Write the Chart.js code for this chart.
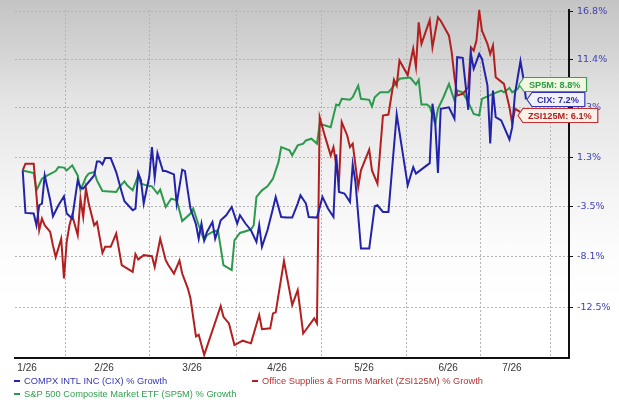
<!DOCTYPE html>
<html><head><meta charset="utf-8">
<script src="https://cdn.jsdelivr.net/npm/chart.js@4.4.1/dist/chart.umd.min.js"></script>
<style>
html,body{margin:0;padding:0;}
body{width:619px;height:407px;overflow:hidden;background:linear-gradient(to bottom,#c4c4c4 0px,#d3d3d3 50px,#e4e4e4 100px,#f1f1f1 170px,#fcfcfc 250px,#ffffff 300px);}
#wrap{position:relative;width:619px;height:407px;}
</style></head><body><div id="wrap"><canvas id="c" width="619" height="407"></canvas></div>
<script>
// ---- axis labels ----
const monthLabels = ['1/26','2/26','3/26','4/26','5/26','6/26','7/26'];
const monthLabelDays = [1.6, 29.6, 61.6, 92.5, 124.1, 154.7, 177.9];
const monthGridDays = [15.4, 46.0, 77.6, 108.5, 139.7, 166.3, 192.1];
const growthTicks = [16.8, 11.4, 6.3, 1.3, -3.5, -8.1, -12.5];
const growthTickLabels = ['16.8%','11.4%','6.3%','1.3%','-3.5%','-8.1%','-12.5%'];

// ---- series (day offset from 1/26, % growth) ----
const cixDays = [0,1,4,5,6,7,8,10,11,13,15,16,18,20,21,22,24,26,27,28,29,30,32,34,36,37,40,41,42,43,44,46,47,48,49,51,52,55,56,58,59,60,61,63,64,65,66,67,69,70,71,72,74,76,78,79,81,83,85,86,87,89,91,92,94,96,98,100,101,103,104,107,109,111,113,114,115,117,119,120,121,123,126,128,129,131,133,136,140,142,143,148,149,150,151,152,155,157,158,160,162,163,164,166,167,169,170,171,172,174,177,178,179,181,182,183];
const cixGrowth = [0.0,-4.06,-4.12,-5.21,-3.34,-3.18,-0.48,-2.87,-4.37,-3.34,-2.49,-4.12,-4.58,-0.96,-1.66,-1.75,-1.12,-0.48,0.89,0.89,0.60,1.22,1.22,-0.15,-2.08,-2.96,-3.81,-3.65,-0.25,-0.96,-3.18,-0.64,2.31,-0.70,1.71,-0.06,-0.06,-0.38,-3.18,0.08,-0.06,-1.92,-3.65,-5.12,-6.45,-5.05,-6.59,-5.83,-4.91,-6.45,-5.67,-4.75,-4.28,-3.50,-5.05,-4.28,-5.05,-5.67,-6.74,-5.21,-7.19,-5.67,-3.65,-2.55,-4.44,-4.50,-4.50,-3.18,-2.40,-3.18,-4.44,-4.50,-2.55,-3.65,-4.44,1.58,-2.08,-2.23,-3.03,0.60,-1.12,-7.34,-7.34,-3.44,-3.34,-3.97,-3.97,5.63,-1.44,0.33,-0.31,0.72,6.74,4.84,-0.25,6.21,6.37,5.19,11.70,11.63,6.11,12.06,10.44,12.06,11.52,8.65,2.68,8.12,5.35,5.01,3.08,4.32,7.78,11.29,9.54,7.2];

const zsiDays = [0,1,4,5,6,7,8,10,11,12,14,15,16,17,18,20,21,22,23,24,26,27,29,30,32,34,36,40,41,42,44,47,48,50,52,53,55,57,58,60,61,63,64,66,72,73,75,77,80,83,86,87,90,91,92,95,98,100,102,106,107,108,110,112,113,115,116,118,119,120,122,123,126,127,129,131,133,135,136,137,140,142,143,144,145,148,149,151,152,155,156,157,158,160,162,163,164,165,166,167,169,170,171,172,175,177,178,179,180,181,183];
const zsiGrowth = [0,0.67,0.67,-2.40,-5.67,-4.58,-5.21,-5.83,-7.06,-8.11,-6.45,-10.01,-6.74,-5.21,-4.28,-6.13,-2.71,-4.44,-1.75,-3.18,-5.21,-4.91,-7.74,-7.19,-7.19,-5.98,-8.84,-9.43,-7.85,-8.33,-7.94,-8.03,-8.99,-6.45,-8.39,-8.84,-9.58,-8.43,-9.58,-10.85,-11.74,-14.97,-14.83,-16.49,-12.40,-13.32,-13.88,-15.68,-15.32,-15.54,-13.17,-14.37,-14.29,-13.03,-12.94,-8.45,-12.31,-11.03,-14.72,-13.45,-13.88,5.34,3.31,1.49,2.31,-1.12,4.84,3.48,2.31,2.65,-1.60,0.01,2.05,0.01,-1.28,5.52,5.62,9.29,8.65,11.34,9.77,12.65,10.67,15.57,13.17,15.83,12.79,16.14,15.76,14.08,12.24,9.54,7.60,7.78,8.47,12.79,12.43,13.53,16.90,14.64,13.17,12.06,12.98,9.54,8.83,6.37,4.67,6.21,6.04,5.86,6.1];

const sp5mDays = [0,4,5,7,9,12,13,15,16,18,20,21,23,24,26,27,29,34,35,37,38,40,42,43,45,47,49,50,52,54,56,58,61,62,64,66,67,69,71,73,76,77,79,83,84,85,87,89,91,93,94,97,98,100,102,103,105,107,108,112,114,115,116,119,120,122,123,126,127,128,130,133,135,137,140,141,143,144,145,147,148,150,151,153,155,157,158,160,162,164,166,167,171,174,175,177,178,180,181,183];
const sp5mGrowth = [0,-0.25,-1.92,-0.80,-0.48,-0.06,0.33,0.28,0.01,0.50,-0.48,-1.92,-0.64,-0.31,-0.15,-0.96,-1.99,-2.08,-1.66,-1.06,-1.44,-1.92,-0.48,-1.28,-1.44,-1.54,-2.23,-1.85,-3.50,-2.71,-2.87,-4.82,-4.12,-3.65,-5.21,-6.59,-6.13,-5.83,-5.67,-8.84,-9.28,-6.59,-5.92,-5.61,-5.21,-2.55,-1.92,-1.54,-0.80,0.82,2.31,1.98,1.49,2.48,2.65,2.98,3.15,2.65,4.67,4.32,6.65,6.55,7.25,7.15,7.42,8.65,7.25,7.15,6.45,7.42,7.94,7.94,8.65,9.37,9.48,9.48,8.76,9.26,6.65,6.65,6.45,4.67,6.21,7.42,8.83,7.08,8.12,7.94,6.90,5.69,5.52,7.25,7.78,8.12,7.94,8.40,7.94,8.30,8.83,8.8];

const seriesNames = ['COMPX INTL INC (CIX) % Growth','Office Supplies & Forms Market (ZSI125M) % Growth','S&P 500 Composite Market ETF (SP5M) % Growth'];
const seriesShort = ['CIX','ZSI125M','SP5M'];
const seriesColors = ['#2323aa','#b31e1e','#2c9a4c'];

const FONT = "'Liberation Sans', Arial, sans-serif";
const toPts = (days, vals) => days.map((d, i) => ({x: d, y: 100 + vals[i]}));
const X_MIN = -2.8, X_MAX = 198.65;

const calloutPlugin = {
  id: 'callouts',
  afterDraw(chart) {
    const ctx = chart.ctx, xs = chart.scales.x, ys = chart.scales.y;
    const endX = xs.getPixelForValue(cixDays[cixDays.length - 1]);
    const items = [
      {name: seriesShort[2], v: sp5mGrowth[sp5mGrowth.length-1], dx: -7, dy: 0, stroke: '#3aa050', fill: '#f1f8e2', text: '#2f9a47'},
      {name: seriesShort[0], v: cixGrowth[cixGrowth.length-1], dx: 1, dy: 0, stroke: '#3434b4', fill: '#f1f1fc', text: '#2a2aa4'},
      {name: seriesShort[1], v: zsiGrowth[zsiGrowth.length-1], dx: -8, dy: 5, stroke: '#c03232', fill: '#fcf1e8', text: '#b02222'}
    ];
    ctx.save();
    ctx.font = 'bold 9.2px ' + FONT;
    items.forEach(it => {
      const label = it.name + ': ' + it.v.toFixed(1) + '%';
      const tw = ctx.measureText(label).width;
      const tip = endX + it.dx;
      const cy = Math.round(ys.getPixelForValue(100 + it.v) + it.dy) + 0.5;
      const h = 7, p = 5, w = tw + 11;
      ctx.beginPath();
      ctx.moveTo(tip, cy);
      ctx.lineTo(tip + p, cy - h);
      ctx.lineTo(tip + p + w, cy - h);
      ctx.lineTo(tip + p + w, cy + h);
      ctx.lineTo(tip + p, cy + h);
      ctx.closePath();
      ctx.fillStyle = it.fill; ctx.fill();
      ctx.lineWidth = 1.2; ctx.strokeStyle = it.stroke; ctx.stroke();
      ctx.fillStyle = it.text; ctx.textBaseline = 'middle'; ctx.textAlign = 'left';
      ctx.fillText(label, tip + p + 5, cy + 0.5);
    });
    ctx.restore();
  }
};

const legendPlugin = {
  id: 'customLegend',
  afterDraw(chart) {
    const ctx = chart.ctx;
    const spots = [[13, 381], [251, 381], [13, 394]];
    const textColors = ['#3636b0', '#b53434', '#34a052'];
    ctx.save();
    ctx.font = '9.3px ' + FONT;
    ctx.textBaseline = 'middle'; ctx.textAlign = 'left';
    seriesNames.forEach((n, i) => {
      const [x, y] = spots[i];
      ctx.fillStyle = seriesColors[i];
      ctx.fillRect(x + 1, y - 1, 6, 2);
      ctx.fillStyle = textColors[i];
      ctx.fillText(n, x + 11, y);
    });
    ctx.restore();
  }
};

new Chart(document.getElementById('c'), {
  type: 'line',
  data: {
    datasets: [
      {label: seriesNames[0], data: toPts(cixDays, cixGrowth), borderColor: seriesColors[0]},
      {label: seriesNames[1], data: toPts(zsiDays, zsiGrowth), borderColor: seriesColors[1]},
      {label: seriesNames[2], data: toPts(sp5mDays, sp5mGrowth), borderColor: seriesColors[2]}
    ].map(d => Object.assign(d, {borderWidth: 2, pointRadius: 0, tension: 0, fill: false, xAxisID: 'x', yAxisID: 'y'}))
  },
  options: {
    responsive: false,
    animation: false,
    devicePixelRatio: 1,
    layout: {padding: {top: 9, left: 15, right: 0, bottom: 0}},
    plugins: {legend: {display: false}, tooltip: {enabled: false}},
    scales: {
      x: {
        type: 'linear', position: 'bottom', min: X_MIN, max: X_MAX,
        afterBuildTicks: ax => { ax.ticks = monthLabelDays.map(v => ({value: v})); },
        afterFit: ax => { ax.height = 49; },
        ticks: {autoSkip: false, maxRotation: 0, padding: 4, color: '#333333', font: {family: FONT, size: 10},
                callback: (v, i) => monthLabels[i]},
        grid: {display: true, drawOnChartArea: false, drawTicks: false},
        border: {display: true, color: '#111111', width: 2}
      },
      xg: {
        type: 'linear', position: 'top', min: X_MIN, max: X_MAX,
        afterBuildTicks: ax => { ax.ticks = monthGridDays.map(v => ({value: v})); },
        afterFit: ax => { ax.height = 0; },
        ticks: {display: false},
        grid: {display: true, drawOnChartArea: true, drawTicks: false, color: '#b4b4b4', lineWidth: 1, borderDash: [2, 2]},
        border: {display: false, dash: [2, 2]}
      },
      y: {
        type: 'logarithmic', position: 'right', min: 83.26, max: 117.01,
        afterBuildTicks: ax => { ax.ticks = growthTicks.map(g => ({value: 100 + g})); },
        afterFit: ax => { ax.width = 50; },
        ticks: {padding: 4, color: '#4141b4', font: {family: "'DejaVu Sans', Verdana, sans-serif", size: 9.5},
                callback: (v, i) => growthTickLabels[i]},
        grid: {display: true, drawOnChartArea: true, drawTicks: true, tickLength: 4, tickColor: '#111111', color: '#b4b4b4', lineWidth: 1, borderDash: [2, 2]},
        border: {display: true, color: '#111111', width: 2, dash: [2, 2]}
      }
    }
  },
  plugins: [calloutPlugin, legendPlugin]
});
</script>
</body></html>
